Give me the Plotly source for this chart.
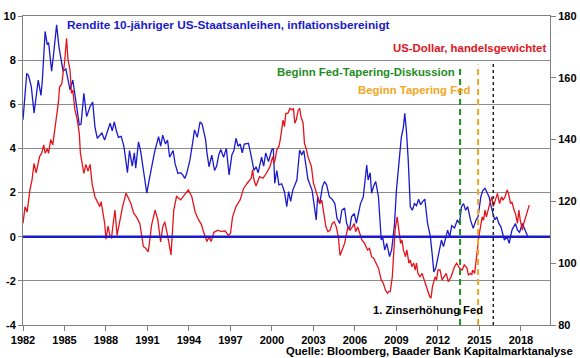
import plotly.graph_objects as go

# ---------------- data ----------------
# Real 10y US Treasury yield (left axis, %)
yield_years = [1982.0, 1982.15, 1982.27, 1982.4, 1982.6, 1982.8, 1983.0, 1983.1, 1983.3, 1983.4,
               1983.6, 1983.75, 1983.85, 1984.07, 1984.2, 1984.43, 1984.6, 1984.75, 1984.9, 1985.1,
               1985.25, 1985.4, 1985.6, 1985.75, 1985.9, 1986.07, 1986.2, 1986.4, 1986.6, 1986.85,
               1987.04, 1987.2, 1987.37, 1987.55, 1987.7, 1987.9, 1988.1, 1988.3, 1988.45, 1988.6,
               1988.75, 1988.9, 1989.1, 1989.3, 1989.55, 1989.7, 1989.9, 1990.05, 1990.15, 1990.25,
               1990.35, 1990.5, 1990.7, 1990.95, 1991.1, 1991.3, 1991.5, 1991.8, 1991.95, 1992.1,
               1992.3, 1992.45, 1992.6, 1992.85, 1993.0, 1993.2, 1993.4, 1993.55, 1993.7, 1993.85,
               1994.07, 1994.25, 1994.4, 1994.6, 1994.8, 1994.95, 1995.2, 1995.3, 1995.45, 1995.65,
               1995.85, 1996.0, 1996.15, 1996.3, 1996.5, 1996.7, 1996.9, 1997.1, 1997.25, 1997.4,
               1997.55, 1997.7, 1997.85, 1998.0, 1998.3, 1998.45, 1998.7, 1998.85, 1999.0, 1999.25,
               1999.4, 1999.55, 1999.75, 1999.98, 2000.1, 2000.2, 2000.35, 2000.5, 2000.7, 2000.9,
               2001.07, 2001.2, 2001.35, 2001.5, 2001.8, 2002.0, 2002.15, 2002.3, 2002.45, 2002.6,
               2002.9, 2003.05, 2003.2, 2003.3, 2003.45, 2003.65, 2003.8, 2003.95, 2004.15, 2004.35,
               2004.55, 2004.7, 2004.9, 2005.05, 2005.25, 2005.4, 2005.6, 2005.75, 2005.95, 2006.1,
               2006.4, 2006.6, 2006.85, 2006.95, 2007.1, 2007.2, 2007.35, 2007.5, 2007.7, 2007.9,
               2008.0, 2008.15, 2008.3, 2008.5, 2008.65, 2008.85, 2009.0, 2009.2, 2009.35, 2009.5,
               2009.6, 2009.72, 2009.85, 2010.0, 2010.15, 2010.3, 2010.45, 2010.6, 2010.75, 2010.9,
               2011.05, 2011.25, 2011.45, 2011.6, 2011.7, 2011.85, 2011.95, 2012.1, 2012.25, 2012.4,
               2012.55, 2012.7, 2012.85, 2013.0, 2013.2, 2013.4, 2013.55, 2013.7, 2013.85, 2014.0,
               2014.15, 2014.35, 2014.55, 2014.75, 2014.9, 2015.1, 2015.25, 2015.4, 2015.55, 2015.7,
               2015.85, 2016.1, 2016.25, 2016.4, 2016.55, 2016.7, 2016.8, 2017.0, 2017.15, 2017.35,
               2017.6, 2017.75, 2017.9, 2018.1, 2018.3, 2018.5]
yield_values = [5.3, 6.5, 7.4, 7.3, 6.8, 5.6, 6.65, 7.1, 6.4, 7.1,
                9.3, 8.7, 8.8, 7.5, 8.2, 9.6, 8.6, 8.1, 7.5, 7.6,
                7.2, 6.65, 7.1, 6.4, 5.9, 5.06, 5.1, 6.5, 5.44, 5.9,
                6.1, 4.98, 4.46, 4.6, 4.7, 4.38, 4.8, 5.14, 4.8, 5.2,
                4.8, 4.5, 4.55, 4.08, 2.9, 3.9, 3.2, 3.8, 3.1, 3.7,
                4.3, 3.9, 3.0, 1.97, 2.5, 3.17, 3.8, 4.53, 4.1, 4.6,
                4.2, 4.38, 3.6, 3.9, 3.3, 2.87, 2.9, 2.8, 2.64, 2.9,
                3.48, 4.2, 4.84, 4.5, 5.2, 5.1, 4.4, 3.8, 3.17, 3.7,
                3.0, 3.2, 3.7, 3.95, 3.6, 4.0, 2.8, 3.7, 3.9, 4.46,
                4.1, 4.2, 3.8, 4.2, 4.23, 3.8, 3.0, 3.17, 2.9, 3.6,
                3.2, 3.8, 3.4, 3.93, 4.0, 2.42, 3.0, 2.35, 2.4, 2.04,
                1.36, 2.04, 1.6, 2.1, 2.57, 3.93, 3.7, 3.9, 3.3, 2.6,
                2.1, 1.5, 0.76, 1.8, 1.5, 2.27, 2.5, 2.35, 1.8, 1.7,
                1.5, 0.83, 0.6, 1.2, 1.3, 0.6, 0.3, 0.9, 1.05, 0.6,
                1.5, 1.8, 3.25, 2.57, 2.9, 1.97, 2.3, 2.5, 1.8, -0.15,
                0.0, -0.6, -0.3, -0.9, -0.6, 0.5, 2.12, 3.48, 4.5, 4.95,
                5.59, 4.8, 3.48, 1.36, 1.2, 1.5, 1.4, 1.7, 1.45, 1.6,
                1.7, 0.6, 0.0, -0.9, -1.6, -1.4, -1.1, -0.6, -0.15, -0.45,
                0.0, 0.3, 0.0, 0.5, 0.4, 0.76, 0.6, 1.36, 1.5, 1.2,
                1.36, 0.76, 0.38, 0.76, 0.9, 1.81, 2.1, 2.19, 2.0, 1.8,
                1.36, 0.76, 0.9, 0.6, 0.45, 0.15, -0.15, 0.0, -0.3, 0.3,
                0.6, 0.3, 0.2, 0.6, 0.3, 0.0]

# Trade-weighted US dollar (right axis, index)
usd_years = [1982.0, 1982.15, 1982.3, 1982.5, 1982.65, 1982.8, 1982.95, 1983.1, 1983.2, 1983.35,
             1983.5, 1983.6, 1983.75, 1983.85, 1984.0, 1984.15, 1984.4, 1984.55, 1984.65, 1984.8,
             1984.9, 1985.0, 1985.15, 1985.25, 1985.4, 1985.5, 1985.6, 1985.75, 1985.9, 1986.07,
             1986.15, 1986.25, 1986.4, 1986.55, 1986.7, 1986.85, 1987.0, 1987.2, 1987.35, 1987.55,
             1987.65, 1987.8, 1987.9, 1988.0, 1988.15, 1988.3, 1988.4, 1988.55, 1988.65, 1988.8,
             1989.05, 1989.2, 1989.45, 1989.6, 1989.8, 1990.0, 1990.2, 1990.45, 1990.7, 1990.85,
             1991.06, 1991.3, 1991.55, 1991.75, 1991.95, 1992.1, 1992.25, 1992.45, 1992.7, 1992.9,
             1993.1, 1993.4, 1993.6, 1993.95, 1994.2, 1994.45, 1994.7, 1994.9, 1995.05, 1995.3,
             1995.45, 1995.6, 1995.8, 1996.1, 1996.35, 1996.6, 1996.85, 1997.0, 1997.15, 1997.4,
             1997.7, 1997.95, 1998.2, 1998.5, 1998.6, 1998.7, 1998.85, 1999.1, 1999.35, 1999.6,
             1999.86, 2000.05, 2000.15, 2000.25, 2000.35, 2000.5, 2000.6, 2000.7, 2000.8, 2000.9,
             2001.0, 2001.15, 2001.3, 2001.45, 2001.55, 2001.65, 2001.75, 2001.9, 2002.0, 2002.1,
             2002.25, 2002.35, 2002.5, 2002.6, 2002.7, 2002.85, 2003.0, 2003.15, 2003.3, 2003.45,
             2003.6, 2003.75, 2003.9, 2004.05, 2004.2, 2004.35, 2004.5, 2004.65, 2004.8, 2004.92,
             2005.05, 2005.25, 2005.5, 2005.65, 2005.8, 2005.95, 2006.05, 2006.2, 2006.35, 2006.5,
             2006.7, 2006.9, 2007.05, 2007.2, 2007.35, 2007.5, 2007.7, 2007.9, 2008.05, 2008.2,
             2008.35, 2008.45, 2008.55, 2008.7, 2008.8, 2008.9, 2009.05, 2009.15, 2009.3, 2009.4,
             2009.5, 2009.65, 2009.75, 2009.9, 2010.0, 2010.1, 2010.25, 2010.35, 2010.45, 2010.55,
             2010.7, 2010.85, 2011.0, 2011.2, 2011.3, 2011.4, 2011.5, 2011.6, 2011.8, 2011.9,
             2012.0, 2012.15, 2012.3, 2012.45, 2012.6, 2012.75, 2012.95, 2013.2, 2013.35, 2013.55,
             2013.75, 2013.9, 2014.1, 2014.2, 2014.35, 2014.45, 2014.5, 2014.65, 2014.75, 2014.85,
             2014.95, 2015.05, 2015.2, 2015.3, 2015.4, 2015.5, 2015.65, 2015.75, 2015.9, 2016.0,
             2016.15, 2016.3, 2016.45, 2016.6, 2016.7, 2016.85, 2017.0, 2017.1, 2017.25, 2017.35,
             2017.5, 2017.6, 2017.75, 2017.85, 2017.95, 2018.1, 2018.2, 2018.35, 2018.45, 2018.6]
usd_values = [112.9, 118.3, 116.6, 123.7, 126.9, 132.3, 129.2, 132.0, 134.5, 135.6,
              138.3, 135.6, 137.0, 135.6, 140.0, 138.3, 146.3, 151.7, 157.1, 158.0,
              161.5, 164.7, 172.8, 166.0, 162.5, 155.0, 156.0, 149.7, 147.0, 142.0,
              135.6, 133.0, 129.1, 132.0, 129.8, 132.0, 125.6, 121.5, 119.9, 118.3,
              119.9, 116.0, 113.0, 107.8, 112.0, 108.5, 108.2, 113.9, 117.2, 109.0,
              115.0, 118.3, 122.7, 121.0, 119.3, 116.2, 115.0, 112.8, 105.4, 104.9,
              103.7, 112.4, 117.2, 113.9, 106.9, 111.7, 113.4, 109.1, 102.7, 117.2,
              121.6, 120.5, 121.6, 123.7, 121.6, 116.5, 114.0, 112.5, 110.2, 107.0,
              108.5, 107.0, 110.0, 110.7, 110.2, 110.5, 109.0, 109.6, 115.0, 118.3,
              120.5, 124.2, 125.8, 127.5, 130.2, 126.9, 125.0, 128.0, 127.5, 129.1,
              131.3, 134.5, 132.3, 134.0, 136.7, 137.8, 140.0, 144.2, 146.3, 144.2,
              148.5, 148.5, 150.1, 149.6, 150.1, 145.3, 146.3, 149.6, 150.1, 147.4,
              145.3, 138.8, 136.7, 134.5, 133.4, 131.3, 125.9, 123.7, 121.5, 119.3,
              120.4, 116.1, 111.8, 110.2, 110.7, 112.8, 113.4, 111.7, 108.5, 102.5,
              104.3, 106.4, 111.8, 110.7, 111.7, 112.8, 110.2, 111.7, 109.6, 107.5,
              106.4, 104.3, 104.8, 102.1, 101.6, 100.0, 98.4, 94.6, 93.5, 91.3,
              90.3, 90.8, 90.8, 95.6, 103.2, 110.7, 115.0, 111.7, 106.4, 107.5,
              104.3, 102.1, 104.3, 100.0, 101.0, 98.9, 100.0, 97.8, 100.0, 96.7,
              95.6, 96.7, 94.6, 92.4, 90.3, 89.2, 88.7, 92.4, 95.6, 94.6,
              97.8, 97.8, 94.6, 95.6, 96.7, 94.0, 95.6, 98.9, 100.0, 98.4,
              97.8, 99.5, 98.4, 96.2, 96.7, 96.2, 97.8, 96.7, 100.0, 104.3,
              108.5, 111.7, 115.0, 113.9, 117.2, 115.0, 118.3, 119.3, 121.5, 118.3,
              120.4, 122.6, 119.3, 121.5, 120.4, 121.5, 123.7, 122.6, 119.3, 119.8,
              117.2, 116.1, 112.9, 117.2, 113.9, 110.7, 112.8, 115.0, 117.2, 118.8]

x_ticks = [1982, 1985, 1988, 1991, 1994, 1997, 2000, 2003, 2006, 2009, 2012, 2015, 2018]
left_ticks = [-4, -2, 0, 2, 4, 6, 8, 10]
right_ticks = [80, 100, 120, 140, 160, 180]

event_dates = [2013.6, 2014.9, 2016.0]
event_colors = ["#1e8c1e", "#f5a623", "#222222"]
event_tops = [7.7, 7.8, 7.95]
event_labels = ["Beginn Fed-Tapering-Diskussion", "Beginn Tapering Fed", "1. Zinserhöhung Fed"]

BLUE = "#1a1acc"
RED = "#e3141c"
FONT = "Liberation Sans, Arial, sans-serif"

fig = go.Figure()
fig.add_trace(go.Scatter(x=usd_years, y=usd_values, mode="lines", yaxis="y2",
                         line=dict(color=RED, width=1.3), showlegend=False))
fig.add_trace(go.Scatter(x=yield_years, y=yield_values, mode="lines", yaxis="y",
                         line=dict(color=BLUE, width=1.3), showlegend=False))

for d, c, top in zip(event_dates, event_colors, event_tops):
    black = c == "#222222"
    fig.add_shape(type="line", xref="x", yref="y", x0=d, x1=d, y0=-4, y1=top,
                  line=dict(color=c, width=1.5 if black else 2,
                            dash="3px,3px" if black else "6px,4px"))

# zero line on top
fig.add_shape(type="line", xref="paper", yref="y", x0=0, x1=1, y0=0, y1=0,
              line=dict(color=BLUE, width=2.5))

ann = []
ann.append(dict(text="<b>Rendite 10-jähriger US-Staatsanleihen, inflationsbereinigt</b>",
                x=1985.1, y=9.6, xanchor="left", yanchor="middle", font=dict(color=BLUE, size=11.8)))
ann.append(dict(text="<b>US-Dollar, handelsgewichtet</b>",
                x=2019.9, y=8.55, xanchor="right", yanchor="middle", font=dict(color=RED, size=11.4)))
ann.append(dict(text="<b>" + event_labels[0] + "</b>", x=2013.3, y=7.46, xanchor="right",
                yanchor="middle", font=dict(color=event_colors[0], size=11.4)))
ann.append(dict(text="<b>" + event_labels[1] + "</b>", x=2014.4, y=6.65, xanchor="right",
                yanchor="middle", font=dict(color=event_colors[1], size=11.4)))
ann.append(dict(text="<b>" + event_labels[2] + "</b>", x=2015.3, y=-3.32, xanchor="right",
                yanchor="middle", font=dict(color="#000000", size=11.2)))
for a in ann:
    a.update(xref="x", yref="y", showarrow=False, borderpad=0)
fig.update_layout(annotations=ann)
fig.add_annotation(text="<b>Quelle: Bloomberg, Baader Bank Kapitalmarktanalyse</b>",
                   xref="paper", yref="paper", x=1.048, y=-0.085, xanchor="right", yanchor="middle",
                   showarrow=False, font=dict(color="#000000", size=11.2))

fig.update_layout(
    width=580, height=358,
    margin=dict(l=23, r=30, t=16, b=33, autoexpand=False),
    paper_bgcolor="white", plot_bgcolor="white",
    font=dict(family=FONT, color="#000000", size=11),
    xaxis=dict(range=[1982, 2020.1], tickvals=x_ticks, ticktext=["<b>%d</b>" % t for t in x_ticks],
               showgrid=False, showline=True, linecolor="#808080", linewidth=1, mirror=True,
               ticks="outside", ticklen=5, tickcolor="#808080", zeroline=False,
               tickfont=dict(size=11), automargin=False),
    yaxis=dict(range=[-4, 10], tickvals=left_ticks, ticktext=["<b>%d</b>" % t for t in left_ticks],
               showgrid=True, gridcolor="#8c8c8c", gridwidth=1, showline=True, linecolor="#808080",
               ticks="outside", ticklen=4, tickcolor="#808080", zeroline=False,
               tickfont=dict(size=11), automargin=False),
    yaxis2=dict(range=[80, 180], tickvals=right_ticks, ticktext=["<b>%d</b>" % t for t in right_ticks],
                overlaying="y", side="right", showgrid=False, showline=True, linecolor="#808080",
                ticks="outside", ticklen=5, tickcolor="#808080", zeroline=False,
                tickfont=dict(size=11), automargin=False),
)

fig.write_html("out.html", config={"displayModeBar": False},
               post_script="document.body.style.margin='0px';document.body.style.overflow='hidden';")
